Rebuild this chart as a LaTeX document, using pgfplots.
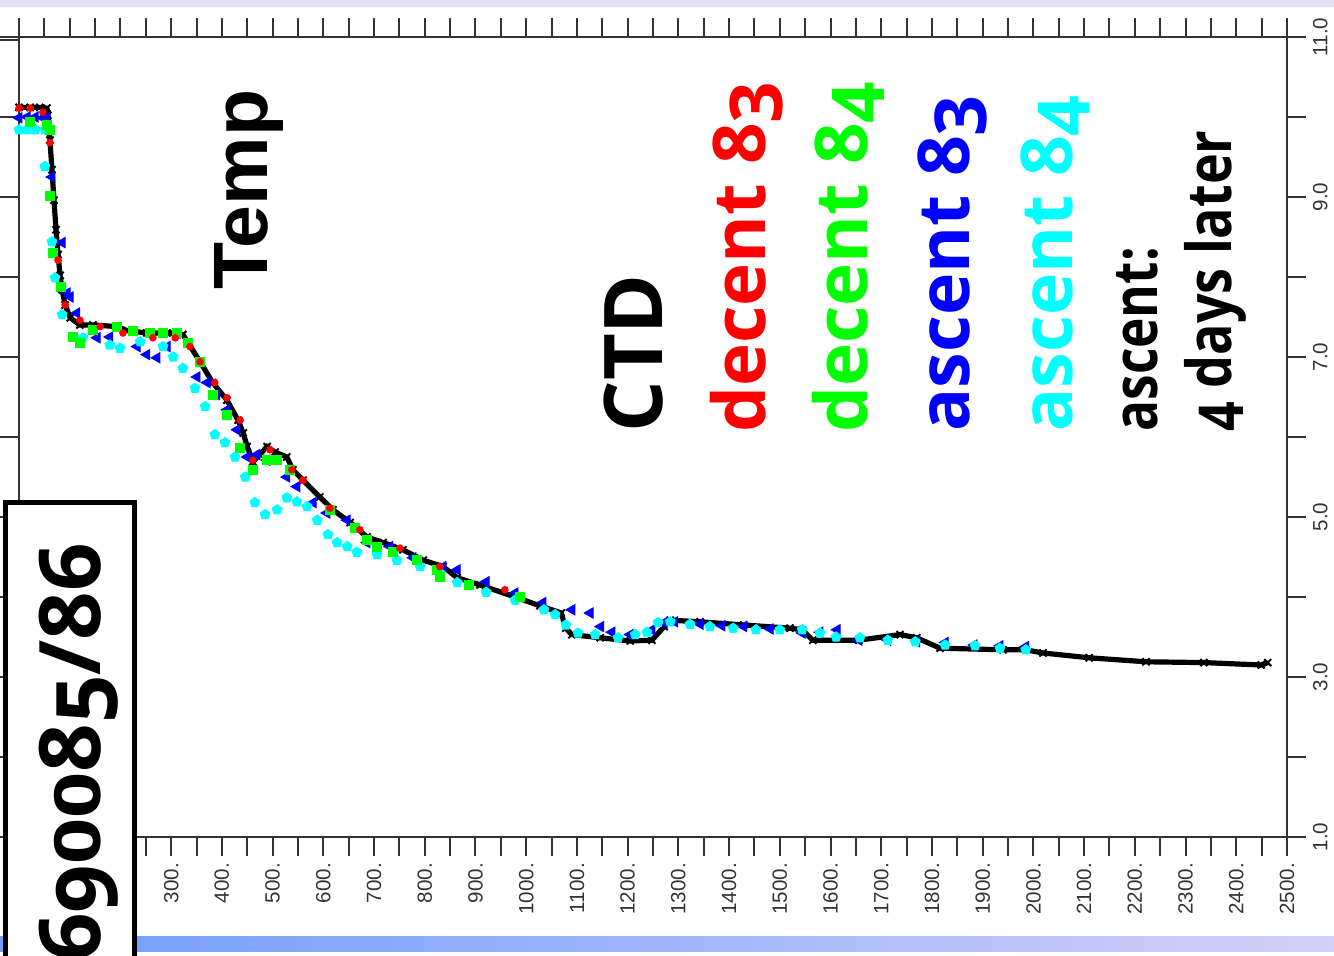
\documentclass[border=0pt]{standalone}
\usepackage{fontspec}
\setmainfont{Liberation Sans}
\newfontfamily\cfont{Open Sans}
\usepackage{pgfplots}
\pgfplotsset{compat=1.18}
\usetikzlibrary{plotmarks}
\definecolor{lav}{HTML}{E2DEF8}
\definecolor{barL}{HTML}{6E9CFF}
\definecolor{barR}{HTML}{D4D0F8}
\definecolor{axc}{HTML}{333333}
\definecolor{cgreen}{HTML}{00FF00}
\definecolor{ccyan}{HTML}{00FFFF}
\newcommand\od[1]{\raisebox{-0.24em}{#1}}
\newcommand\oz{\scalebox{0.95}[0.75]{0}}
\begin{document}
\begin{tikzpicture}
\fill[white] (0,0) rectangle (667pt,478pt);
\begin{scope}[x=0.5pt,y=-0.5pt,shift={(0pt,478pt)}]
\fill[lav] (0,0) rectangle (1334,7);
\shade[left color=barL, right color=barR] (0,937) rectangle (1334,952);
\end{scope}
\begin{axis}[
  scale only axis, width=634pt, height=400pt,
  at={(9.5pt,59.5pt)}, anchor=south west,
  xmin=0,xmax=2500,ymin=1,ymax=11,
  axis line style={axc, line width=1pt},
  every tick/.style={axc, line width=1pt},
  tick align=outside,
  major tick length=9.5pt, minor tick length=9.5pt,
  xtick={0,100,...,2500}, minor xtick={50,150,...,2450},
  ytick={1,3,...,11}, minor ytick={2,4,...,10},
  xtick pos=both, ytick pos=both,
  xticklabel pos=lower, yticklabel pos=right,
  /pgf/number format/assume math mode=true,
  xticklabel={\pgfmathprintnumber[fixed,precision=0,set thousands separator={}]{\tick}.},
  yticklabel={\pgfmathprintnumber[fixed,fixed zerofill,precision=1]{\tick}},
  ticklabel style={font=\fontsize{10.3}{12}\selectfont, text=axc},
  xticklabel style={rotate=90, anchor=east},
  yticklabel style={rotate=90, anchor=north},
  clip=false,
]
% ascent 4 days later (black)
\addplot[black, line width=2.6pt, mark=x, mark size=2.5pt, mark options={line width=1pt}] coordinates {
(0,10.12)(22,10.12)(41,10.12)(55,10.11)(57,10.02)(61,9.71)(65,9.34)(69,8.96)(73,8.59)(77,8.28)(81,8.02)(85,7.84)(91,7.65)(101,7.49)(120,7.40)(146,7.40)(193,7.38)(213,7.33)(252,7.30)(292,7.30)(312,7.30)(323,7.28)(333,7.18)(357,6.94)(382,6.68)(410,6.46)(432,6.21)(442,6.05)(450,5.88)(461,5.69)(475,5.78)(489,5.88)(505,5.81)(528,5.75)(540,5.59)(560,5.46)(593,5.25)(619,5.09)(653,4.93)(686,4.75)(718,4.68)(757,4.59)(797,4.46)(836,4.38)(864,4.24)(909,4.15)(978,4.00)(1027,3.89)(1069,3.80)(1078,3.61)(1090,3.53)(1146,3.49)(1205,3.45)(1248,3.46)(1272,3.63)(1284,3.71)(1343,3.69)(1429,3.65)(1520,3.61)(1544,3.59)(1565,3.46)(1656,3.46)(1737,3.53)(1770,3.49)(1816,3.36)(1940,3.34)(1985,3.34)(2019,3.30)(2110,3.24)(2222,3.19)(2336,3.18)(2449,3.15)(2462,3.18)
};
% ascent 83 (blue)
\addplot[only marks, mark=triangle*, mark size=3pt, mark options={rotate=90, draw=blue, fill=blue}] coordinates {
(0,9.99)(16,10.0)(32,10.0)(47,9.99)(55,9.99)(65,9.25)(85,8.43)(95,7.80)(101,7.75)(114,7.55)(154,7.24)(179,7.25)(233,7.13)(252,7.03)(272,6.99)(292,7.13)(351,6.75)(371,6.68)(390,6.53)(410,6.34)(430,6.09)(450,5.75)(469,5.78)(489,5.71)(528,5.50)(548,5.38)(580,5.18)(607,5.05)(647,4.96)(686,4.68)(731,4.63)(777,4.49)(836,4.38)(864,4.34)(921,4.19)(978,4.05)(1033,3.93)(1090,3.84)(1126,3.80)(1147,3.63)(1169,3.56)(1205,3.53)(1248,3.59)(1272,3.68)(1293,3.69)(1343,3.66)(1386,3.64)(1429,3.63)(1481,3.60)(1544,3.55)(1579,3.56)(1613,3.59)(1656,3.46)(1713,3.46)(1770,3.44)(1826,3.43)(1883,3.40)(1934,3.39)(1985,3.38)
};
% ascent 84 (cyan)
\addplot[only marks, mark=pentagon*, mark size=2.6pt, mark options={draw=ccyan, fill=ccyan}] coordinates {
(0,9.84)(16,9.84)(32,9.84)(51,9.84)(51,9.38)(65,8.44)(71,7.99)(85,7.53)(126,7.24)(179,7.15)(199,7.11)(239,7.19)(284,7.13)(304,7.00)(323,6.86)(347,6.61)(367,6.38)(386,6.03)(406,5.93)(426,5.75)(446,5.50)(465,5.18)(485,5.03)(509,5.09)(528,5.24)(548,5.19)(568,5.13)(588,4.96)(609,4.78)(627,4.68)(647,4.63)(666,4.56)(706,4.53)(745,4.46)(791,4.38)(830,4.30)(864,4.18)(921,4.06)(978,3.96)(1035,3.84)(1057,3.78)(1078,3.65)(1102,3.55)(1136,3.53)(1181,3.49)(1215,3.53)(1238,3.56)(1260,3.68)(1284,3.69)(1323,3.66)(1362,3.63)(1408,3.61)(1453,3.59)(1500,3.59)(1544,3.59)(1579,3.55)(1611,3.50)(1658,3.49)(1713,3.46)(1767,3.44)(1826,3.40)(1885,3.39)(1934,3.36)(1985,3.34)
};
% decent 84 (green)
\addplot[only marks, mark=square*, mark size=2.2pt, mark options={draw=cgreen, fill=cgreen}] coordinates {
(22,9.94)(55,9.90)(61,9.84)(61,9.01)(67,8.30)(83,7.88)(106,7.25)(120,7.18)(146,7.34)(193,7.38)(225,7.33)(258,7.30)(284,7.30)(312,7.30)(333,7.18)(357,6.94)(382,6.53)(410,6.28)(436,5.86)(461,5.59)(489,5.71)(509,5.71)(534,5.59)(613,5.09)(662,4.86)(686,4.71)(706,4.63)(737,4.56)(785,4.46)(824,4.34)(830,4.25)(887,4.15)(988,4.00)
};
% decent 83 (red)
\addplot[only marks, mark=*, mark size=1.7pt, mark options={draw=red, fill=red}] coordinates {
(0,10.11)(22,10.11)(47,10.06)(61,9.68)(77,8.21)(91,7.65)(120,7.46)(160,7.38)(205,7.30)(264,7.24)(308,7.24)(337,7.13)(357,6.94)(386,6.68)(410,6.49)(436,6.21)(461,5.71)(495,5.84)(538,5.59)(560,5.46)(613,5.11)(672,4.84)(751,4.61)(830,4.38)(958,4.09)
};
\end{axis}
\begin{scope}[x=0.5pt,y=-0.5pt,shift={(0pt,478pt)}]
\draw[axc, line width=1pt] (0,40) -- (19,40);
\draw[axc, line width=1pt] (1287,37) -- (1305,37);
\draw[axc, line width=1pt] (1287,837) -- (1305,837);
\draw[axc, line width=1pt] (1287,20) -- (1287,37);
\draw[axc, line width=1pt] (1287,837) -- (1287,845);
\tikzset{lab/.style={rotate=90, anchor=base west, inner sep=0pt}}
\node[lab, font=\fontsize{38.5}{40}\selectfont\bfseries] at (267,290) {Temp};
\node[lab, font=\cfont\bfseries\fontsize{40.5}{45}\selectfont] at (662,433) {CTD};
\node[lab, text=red, font=\cfont\bfseries\fontsize{36.4}{45}\selectfont] at (765,433) {decent 8\od{3}};
\node[lab, text=cgreen, font=\cfont\bfseries\fontsize{36.4}{45}\selectfont] at (867,433) {decent 8\od{4}};
\node[lab, text=blue, font=\cfont\bfseries\fontsize{35.8}{45}\selectfont] at (969,432) {ascent 8\od{3}};
\node[lab, text=ccyan, font=\cfont\bfseries\fontsize{35.8}{45}\selectfont] at (1072,432) {ascent 8\od{4}};
\node[lab, font=\cfont\bfseries\fontsize{31}{36}\selectfont] at (1157,432) {\scalebox{0.83}[1]{ascent:}};
\node[lab, font=\cfont\bfseries\fontsize{31}{36}\selectfont] at (1231,432) {\scalebox{0.84}[1]{\raisebox{-0.2em}{4} days later}};
\draw[black, line width=2.5pt, fill=white] (5.5,502.5) rectangle (134.5,1000);
\node[lab, font=\cfont\bfseries\fontsize{42.5}{45}\selectfont] at (100,962) {6\raisebox{-0.2em}{9}\oz\oz8\raisebox{-0.2em}{5}/86};
\end{scope}
\pgfresetboundingbox
\path[use as bounding box] (0,0) rectangle (667pt,478pt);
\end{tikzpicture}
\end{document}
